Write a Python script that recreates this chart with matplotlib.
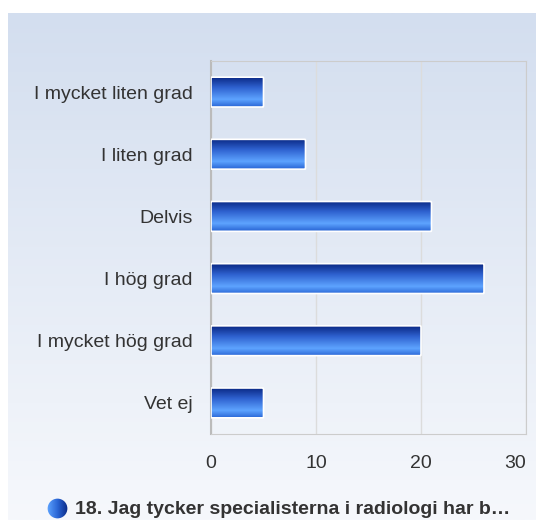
import numpy as np
import matplotlib
matplotlib.use("Agg")
import matplotlib.pyplot as plt
from matplotlib.colors import LinearSegmentedColormap
from matplotlib.patches import FancyBboxPatch

# data
categories = ["I mycket liten grad", "I liten grad", "Delvis", "I hög grad",
              "I mycket hög grad", "Vet ej"]
counts = [5, 9, 21, 26, 20, 5]
x_ticks = [0, 10, 20, 30]
legend_label = "18. Jag tycker specialisterna i radiologi har b…"

plt.rcParams["font.family"] = ["Liberation Sans", "DejaVu Sans"]

W, H = 536, 520
fig = plt.figure(figsize=(W / 100, H / 100), dpi=100)
fig.patch.set_facecolor("white")

# panel background gradient
bg = fig.add_axes([8 / W, 0, 1 - 8 / W, 1 - 13 / H])
bg_cmap = LinearSegmentedColormap.from_list("bg", ["#d3deef", "#f6f8fc"])
bg.imshow(np.linspace(0, 1, 256).reshape(-1, 1), cmap=bg_cmap, aspect="auto",
          extent=[0, 1, 0, 1])
bg.set_axis_off()

# plot area
left, right, top, bottom = 211, 526, 61, 434
ax = fig.add_axes([left / W, 1 - bottom / H, (right - left) / W, (bottom - top) / H])
ax.set_facecolor("none")

bar_cmap = LinearSegmentedColormap.from_list(
    "bar", [(0.0, "#0b2a86"), (0.35, "#2f62d0"), (0.75, "#5ea4ff"), (1.0, "#2a66d6")])
grad = np.linspace(0, 1, 64).reshape(-1, 1)

y = np.arange(len(categories))
bh = 0.48
for yi, v in zip(y, counts):
    patch = FancyBboxPatch((0, yi - bh / 2), v, bh,
                           boxstyle="round,pad=0,rounding_size=0.05",
                           mutation_aspect=0.5,
                           facecolor="none", edgecolor="white", linewidth=1.2, zorder=4)
    ax.add_patch(patch)
    im = ax.imshow(grad, cmap=bar_cmap, aspect="auto",
                   extent=[0, v, yi + bh / 2, yi - bh / 2], zorder=3)
    im.set_clip_path(patch)

ax.set_xlim(0, 30)
ax.set_ylim(len(categories) - 0.5, -0.5)
ax.set_xticks(x_ticks)
ax.set_yticks(y)
ax.set_yticklabels(categories)
ax.tick_params(axis="x", length=0, pad=15, labelsize=14, colors="#333333")
ax.tick_params(axis="y", length=0, pad=13, labelsize=14, colors="#333333")
ax.get_xticklabels()[-1].set_horizontalalignment("right")
ax.grid(True, axis="x", color="#dcdcdc", linewidth=1)
ax.set_axisbelow(True)
for s in ax.spines.values():
    s.set_color("#cccccc")
ax.spines["left"].set_color("#bbbbbb")
ax.spines["left"].set_linewidth(1.5)

# legend
lg = fig.add_axes([47 / W, 1 - 519 / H, 21 / W, 21 / H])
lg.set_axis_off()
circ_cmap = LinearSegmentedColormap.from_list("c", ["#5ea4ff", "#2a66d6", "#0b2a86"])
im = lg.imshow(np.linspace(0, 1, 64).reshape(1, -1), cmap=circ_cmap, aspect="auto",
               extent=[0, 1, 0, 1])
circle = plt.Circle((0.5, 0.5), 0.47, transform=lg.transData, facecolor="none")
lg.add_patch(circle)
im.set_clip_path(circle)
lg.set_xlim(0, 1)
lg.set_ylim(0, 1)
fig.text(75 / W, 1 - 509 / H, legend_label, fontsize=14, fontweight="bold",
         color="#333333", va="center", ha="left")

fig.savefig("out.png", dpi=100)
